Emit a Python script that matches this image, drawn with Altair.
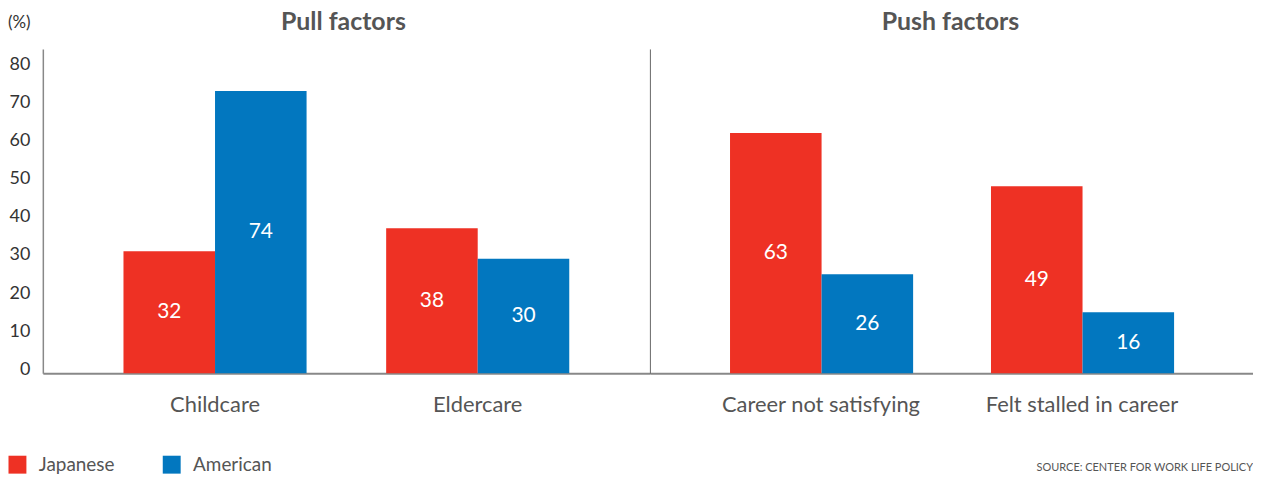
import altair as alt
import pandas as pd

# ---- data ----
pull_categories = ["Childcare", "Eldercare"]
push_categories = ["Career not satisfying", "Felt stalled in career"]
series = ["Japanese", "American"]
japanese_pull = [32, 38]
american_pull = [74, 30]
japanese_push = [63, 49]
american_push = [26, 16]
y_ticks = [0, 10, 20, 30, 40, 50, 60, 70, 80]
colors = ["#ee3124", "#0277bf"]
panel_titles = ["Pull factors", "Push factors"]
unit_text = ["(%)"]
source_text = ["SOURCE: CENTER FOR WORK LIFE POLICY"]

FONT = "Lato"
H = 326


def make_df(cats, jp, us):
    rows = []
    for c, j, a in zip(cats, jp, us):
        rows.append({"category": c, "country": "Japanese", "value": j})
        rows.append({"category": c, "country": "American", "value": a})
    return pd.DataFrame(rows)


pull_df = make_df(pull_categories, japanese_pull, american_pull)
push_df = make_df(push_categories, japanese_push, american_push)

color_scale = alt.Scale(domain=series, range=colors)
y_scale = alt.Scale(domain=[0, 85], nice=False)


def text_layer(txt, x, y, size, align, weight="normal", color="#555"):
    return alt.Chart(pd.DataFrame({"t": [txt]})).mark_text(
        align=align, baseline="middle", fontSize=size, color=color,
        font=FONT, fontWeight=weight
    ).encode(x=alt.value(x), y=alt.value(y), text="t:N")


def panel(df, cats, title, left, width, title_dx):
    if left:
        y_axis = alt.Axis(values=y_ticks, ticks=False, grid=False,
                          labelFontSize=18, labelColor="#333", labelPadding=13,
                          labelFont=FONT, labelOffset=-4,
                          domainColor="#888", domainWidth=1.5, title=None)
    else:
        y_axis = alt.Axis(labels=False, ticks=False, grid=False, title=None,
                          domainColor="#666", domainWidth=1)

    base = alt.Chart(df).encode(
        x=alt.X("category:N", sort=cats,
                scale=alt.Scale(paddingInner=0.303, paddingOuter=0.307),
                axis=alt.Axis(title=None, labelAngle=0, labelFontSize=22,
                              labelColor="#555", labelPadding=21, ticks=False,
                              labelFont=FONT, labelLimit=400,
                              domainColor="#888", domainWidth=2)),
        xOffset=alt.XOffset("country:N", sort=series,
                            scale=alt.Scale(paddingInner=0, paddingOuter=0)),
    )
    bars = base.mark_bar().encode(
        y=alt.Y("value:Q", scale=y_scale, axis=y_axis),
        color=alt.Color("country:N", sort=series, scale=color_scale,
                        legend=alt.Legend(title=None, orient="none",
                                          direction="horizontal",
                                          legendX=-35, legendY=408,
                                          symbolType="square", symbolSize=324,
                                          symbolStrokeWidth=0, symbolOpacity=1,
                                          labelFontSize=19, labelColor="#555",
                                          labelFont=FONT,
                                          labelOffset=12, columnPadding=47,
                                          padding=0)),
    )
    labels = base.transform_calculate(mid="datum.value / 2").mark_text(
        color="white", fontSize=21, font=FONT, baseline="middle"
    ).encode(
        y=alt.Y("mid:Q", scale=y_scale),
        text=alt.Text("value:Q"),
    )
    layers = [bars, labels,
              text_layer(title, width / 2 + title_dx, -27, 25, "center", "bold")]
    if left:
        layers.append(text_layer(unit_text[0], -35, -26, 17, "left", color="#333"))
    else:
        layers.append(text_layer(source_text[0], width, 421, 11, "right"))
    return alt.layer(*layers).properties(width=width, height=H)


left = panel(pull_df, pull_categories, panel_titles[0], True, 610, -3)
right = panel(push_df, push_categories, panel_titles[1], False, 606, -1)

chart = alt.hconcat(left, right, spacing=0).properties(
    padding={"left": 0, "top": 1, "right": 0, "bottom": 0}
).configure_view(stroke=None)

chart.save("out.html", embed_options={"renderer": "svg", "actions": False})
